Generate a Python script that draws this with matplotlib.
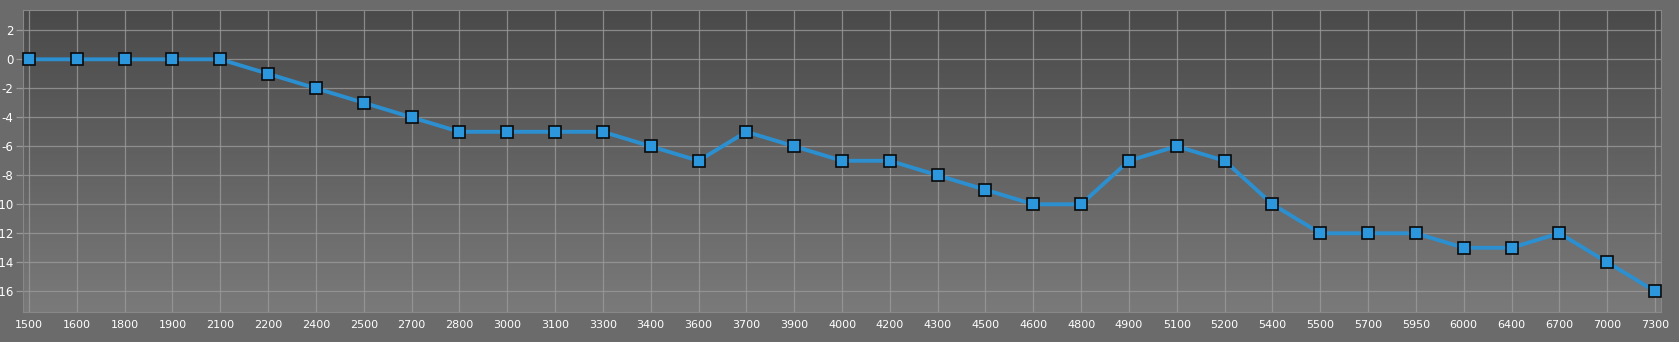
import matplotlib.pyplot as plt
import numpy as np

rpm = ['1500', '1600', '1800', '1900', '2100', '2200', '2400', '2500', '2700', '2800',
       '3000', '3100', '3300', '3400', '3600', '3700', '3900', '4000', '4200', '4300',
       '4500', '4600', '4800', '4900', '5100', '5200', '5400', '5500', '5700', '5950',
       '6000', '6400', '6700', '7000', '7300']
values = [0, 0, 0, 0, 0, -1, -2, -3, -4, -5,
          -5, -5, -5, -6, -7, -5, -6, -7, -7, -8,
          -9, -10, -10, -7, -6, -7, -10, -12, -12, -12,
          -13, -13, -12, -14, -16]
yticks = [2, 0, -2, -4, -6, -8, -10, -12, -14, -16]

fig = plt.figure(figsize=(16.79, 3.42), dpi=100, facecolor='#6b6b6b')
ax = fig.add_axes([23 / 1679, 30 / 342, 1638 / 1679, 302 / 342])

# background gradient: dark at top, lighter at bottom
grad = np.linspace(0, 1, 256).reshape(-1, 1)
cmap = plt.matplotlib.colors.LinearSegmentedColormap.from_list('bg', ['#4a4a4a', '#7a7a7a'])
ax.imshow(grad, extent=[0, 1, 0, 1], transform=ax.transAxes, aspect='auto',
          cmap=cmap, zorder=0)

x = np.arange(len(rpm))
ax.plot(x, values, color='#2b8fd0', lw=2.8, marker='s', markersize=8,
        markerfacecolor='#2d97dd', markeredgecolor='#0a0a0a', markeredgewidth=1.2,
        zorder=3, clip_on=False)

ax.set_xlim(-0.125, len(rpm) - 1 + 0.125)
ax.set_ylim(-17.43, 3.4)
ax.set_xticks(x)
ax.set_xticklabels(rpm)
ax.set_yticks(yticks)
ax.set_yticklabels([str(v) for v in yticks])

ax.grid(True, color='#9a9a9a', lw=0.9, alpha=0.8, zorder=1)
ax.set_axisbelow(True)
ax.tick_params(axis='x', length=0, pad=6, colors='white', labelsize=8)
ax.tick_params(axis='y', length=5, width=0.9, color='#9a9a9a', pad=2,
               labelcolor='white', labelsize=8.5)
for s in ax.spines.values():
    s.set_color('#888888')
    s.set_linewidth(0.8)

plt.savefig('out.png', dpi=100, facecolor=fig.get_facecolor())
